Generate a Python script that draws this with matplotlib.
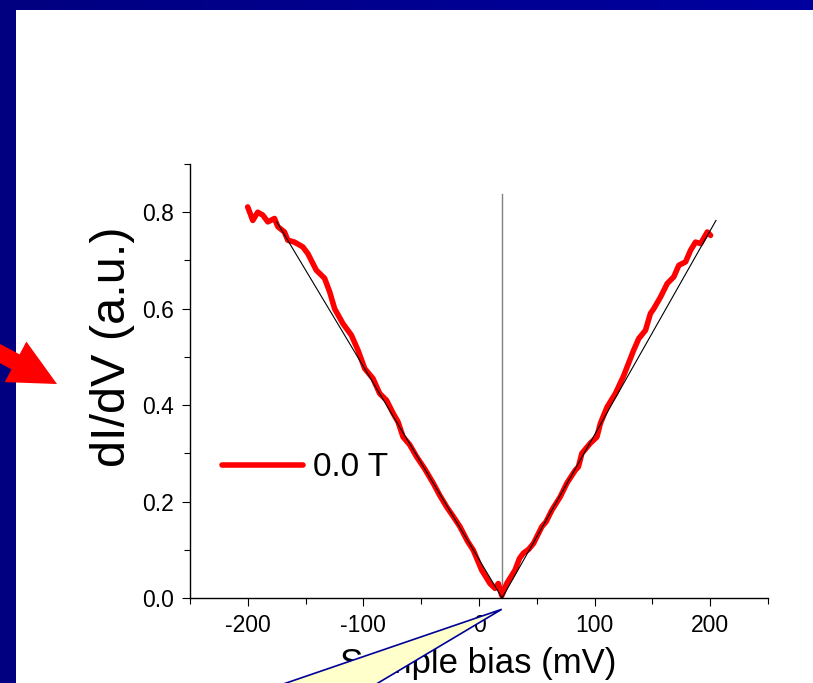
import numpy as np
import matplotlib
matplotlib.use('Agg')
import matplotlib.pyplot as plt
from matplotlib.patches import Polygon, FancyArrow
from matplotlib.transforms import Affine2D
from matplotlib.colors import LinearSegmentedColormap

plt.rcParams['font.family'] = ['Liberation Sans', 'DejaVu Sans']
plt.rcParams['axes.unicode_minus'] = False

# dI/dV spectrum at 0.0 T
bias_mv = [-200.1, -195.7, -191.4, -187.0, -182.7, -176.9, -174.0, -168.3, -165.4,
           -159.6, -152.4, -148.0, -140.8, -133.6, -129.2, -124.9, -117.7, -110.4,
           -104.7, -98.9, -91.7, -85.9, -80.0, -74.3, -70.0, -65.7, -60.0, -54.0,
           -47.0, -39.6, -34.0, -28.0, -22.0, -16.5, -10.0, -4.9, 2.3, 9.5, 13.9,
           16.7, 19.7, 24.0, 31.2, 35.0, 38.4, 43.0, 47.1, 54.4, 58.0, 63.0,
           70.3, 76.0, 83.3, 86.0, 89.0, 96.3, 102.0, 105.0, 110.8, 118.0, 125.0, 133.8,
           138.2, 144.0, 148.3, 151.2, 157.0, 162.8, 168.5, 172.9, 178.7, 183.0,
           187.3, 191.7, 197.5, 200.3]
didv = [0.811, 0.783, 0.800, 0.794, 0.780, 0.787, 0.770, 0.759, 0.742,
        0.738, 0.728, 0.714, 0.680, 0.663, 0.635, 0.600, 0.569, 0.545,
        0.514, 0.476, 0.455, 0.424, 0.410, 0.383, 0.365, 0.334, 0.318, 0.293,
        0.268, 0.238, 0.213, 0.189, 0.168, 0.148, 0.118, 0.099, 0.058, 0.030, 0.020,
        0.030, 0.005, 0.030, 0.058, 0.082, 0.093, 0.101, 0.113, 0.148, 0.158, 0.182,
        0.210, 0.238, 0.265, 0.272, 0.300, 0.321, 0.334, 0.362, 0.396, 0.424, 0.460, 0.514,
        0.538, 0.555, 0.590, 0.600, 0.624, 0.652, 0.666, 0.690, 0.697, 0.721,
        0.738, 0.735, 0.759, 0.752]

# linear fits (V shape) and Dirac point marker
fit_left_x = [-175, 20]
fit_left_y = [0.78, 0.0]
fit_right_x = [20, 205]
fit_right_y = [0.0, 0.783]
dirac_x = 20
dirac_top = 0.837

W, H = 813, 683
fig = plt.figure(figsize=(W / 100, H / 100), dpi=100)
ax = fig.add_axes([190 / W, 1 - 598 / H, 578 / W, 434 / H])

ax.plot(bias_mv, didv, color='#ff0000', lw=4.0, solid_capstyle='round',
        solid_joinstyle='round', label='0.0 T', zorder=2)
ax.plot(fit_left_x, fit_left_y, color='black', lw=0.8, zorder=3)
ax.plot(fit_right_x, fit_right_y, color='black', lw=0.8, zorder=3)
ax.plot([dirac_x, dirac_x], [0, dirac_top], color='#808080', lw=1.0, zorder=1)

ax.set_xlim(-250, 250)
ax.set_ylim(0, 0.9)
ax.set_xticks([-200, -100, 0, 100, 200])
ax.set_xticks(np.arange(-250, 251, 50), minor=True)
ax.set_yticks([0.0, 0.2, 0.4, 0.6, 0.8])
ax.set_yticks(np.arange(0.1, 0.91, 0.2), minor=True)
ax.set_yticklabels(['0.0', '0.2', '0.4', '0.6', '0.8'])
for s in ['top', 'right']:
    ax.spines[s].set_visible(False)
for s in ['left', 'bottom']:
    ax.spines[s].set_linewidth(1.0)
ax.tick_params(which='major', direction='out', length=6, width=0.8, labelsize=16.5, pad=5.5)
ax.tick_params(which='minor', direction='out', length=4, width=0.8)

ax.set_xlabel('Sample bias (mV)', fontsize=25)
ax.set_ylabel('dI/dV (a.u.)', fontsize=35)
ax.xaxis.set_label_coords(0.499, -0.113)
ax.yaxis.set_label_coords(-0.095, 0.578)

ax.legend(loc='center left', bbox_to_anchor=(0.055, 0.30), frameon=False, fontsize=24,
          handlelength=2.45, handletextpad=0.28, borderpad=0, borderaxespad=0)

# pixel-space transform (origin top-left)
px = Affine2D().scale(1 / W, -1 / H).translate(0, 1) + fig.transFigure

# slide border
grad = np.linspace(0, 1, 256).reshape(1, -1)
navy = LinearSegmentedColormap.from_list('navy', ['#000080', '#0000a0'])
top_ax = fig.add_axes([0, 1 - 10 / H, 1, 10 / H], zorder=10)
top_ax.imshow(grad, aspect='auto', cmap=navy)
top_ax.axis('off')
fig.add_artist(Polygon([(0, 0), (16, 0), (16, H), (0, H)], closed=True,
                       facecolor='#000080', edgecolor='none', transform=px, zorder=9))

# red arrow pointing at the y label
fig.add_artist(FancyArrow(-31, 337, 88, 47, width=17, head_width=46, head_length=47,
                          length_includes_head=True, facecolor='#ff0000', edgecolor='none',
                          transform=px, zorder=11))

# callout pointing at the Dirac point
fig.add_artist(Polygon([(501.7, 609.3), (236.5, 700), (349.5, 700)], closed=True,
                       facecolor='#ffffcc', edgecolor='#000099', lw=1.2,
                       transform=px, zorder=8))

fig.savefig('out.png', dpi=100)
